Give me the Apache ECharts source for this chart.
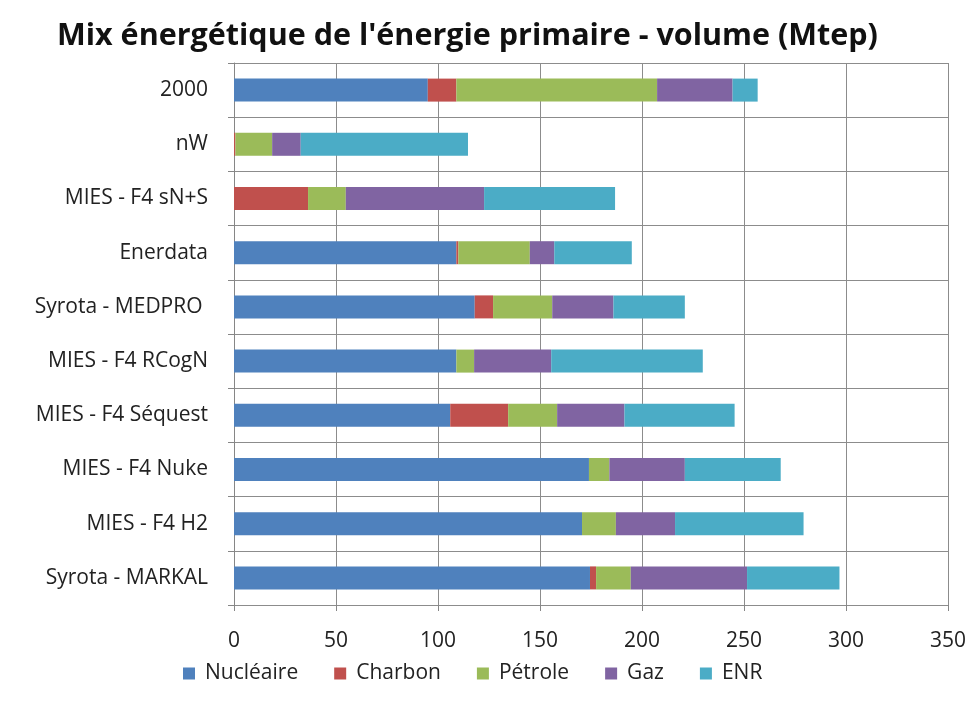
<!DOCTYPE html>
<html>
<head>
<meta charset="utf-8">
<script src="https://cdn.jsdelivr.net/npm/echarts@6/dist/echarts.min.js"></script>
<style>
  html, body { margin: 0; padding: 0; background: #fff; }
  #main { width: 969px; height: 713px; }
</style>
</head>
<body>
<div id="main"></div>
<script>
var categories = ['2000', 'nW', 'MIES - F4 sN+S', 'Enerdata', 'Syrota - MEDPRO ',
    'MIES - F4 RCogN', 'MIES - F4 Séquest', 'MIES - F4 Nuke', 'MIES - F4 H2', 'Syrota - MARKAL'];

var nucleaire = [95, 0, 0, 109, 118, 109, 106, 174, 170.6, 174.5];
var charbon   = [14, 0.7, 36.3, 1, 9, 0, 28.4, 0, 0, 3];
var petrole   = [98.4, 18, 18.5, 35, 29, 8.7, 24, 10, 16.6, 17];
var gaz       = [37, 14, 67.8, 12, 30, 37.8, 33, 37, 29, 57];
var enr       = [12.3, 82, 64.2, 38, 35, 74.3, 54, 47, 63, 45.3];

var seriesNames = ['Nucléaire', 'Charbon', 'Pétrole', 'Gaz', 'ENR'];
var seriesData = [nucleaire, charbon, petrole, gaz, enr];
var colors = ['#4F81BD', '#C0504D', '#9BBB59', '#8064A2', '#4BACC6'];

var font = '"Open Sans", "Liberation Sans", sans-serif';

function draw() {
    var myChart = echarts.init(document.getElementById('main'), null, {
        width: 969,
        height: 713
    });
    var series = [];
    for (var i = 0; i < seriesNames.length; i++) {
        series.push({
            name: seriesNames[i],
            type: 'bar',
            stack: 'total',
            data: seriesData[i],
            barWidth: 23,
            itemStyle: { color: colors[i] }
        });
    }
    var option = {
        animation: false,
        backgroundColor: '#fff',
        color: colors,
        title: {
            text: "Mix énergétique de l'énergie primaire - volume (Mtep)",
            left: 52,
            top: 16,
            textStyle: {
                fontFamily: font,
                fontSize: 30.5,
                fontWeight: 'bold',
                color: '#111'
            }
        },
        legend: {
            bottom: 24,
            left: 178,
            itemWidth: 12,
            itemHeight: 12,
            itemGap: 36,
            icon: 'rect',
            textStyle: { fontFamily: font, fontSize: 21, color: '#222', padding: [0, 0, 0, 5] },
            data: seriesNames
        },
        grid: {
            left: 234,
            right: 17,
            top: 63,
            bottom: 108,
            containLabel: false
        },
        xAxis: {
            type: 'value',
            min: 0,
            max: 350,
            interval: 50,
            axisLine: { show: false },
            axisTick: { show: true, length: 6, lineStyle: { color: '#868686' } },
            axisLabel: { fontFamily: font, fontSize: 21, color: '#222', margin: 26 },
            splitLine: { show: true, lineStyle: { color: '#8c8c8c', width: 1 } }
        },
        yAxis: {
            type: 'category',
            inverse: true,
            data: categories,
            axisLine: { show: true, lineStyle: { color: '#868686' } },
            axisTick: { show: true, length: 6, lineStyle: { color: '#868686' } },
            axisLabel: { fontFamily: font, fontSize: 21, color: '#222', margin: 26 },
            splitLine: { show: true, lineStyle: { color: '#8c8c8c', width: 1 } }
        },
        series: series
    };
    myChart.setOption(option);
}

draw();
</script>
</body>
</html>
